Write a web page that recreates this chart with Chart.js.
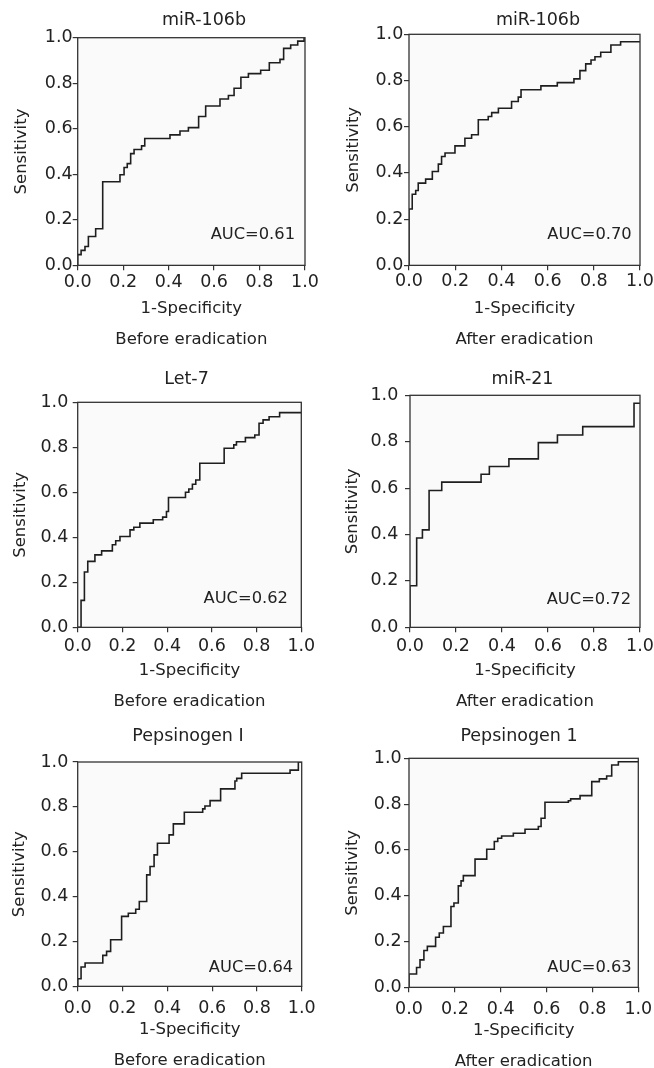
<!DOCTYPE html>
<html>
<head>
<meta charset="utf-8">
<script src="https://cdn.jsdelivr.net/npm/chart.js@4.4.1/dist/chart.umd.min.js"></script>
<style>
  html, body { margin: 0; padding: 0; background: #fff; overflow: hidden; width: 654px; height: 1068px; }
  .panel { position: absolute; }
</style>
</head>
<body>
<script>
// axis ticks, same on every panel
const tickValues = [0, 0.2, 0.4, 0.6, 0.8, 1.0];
const tickLabels = ['0.0', '0.2', '0.4', '0.6', '0.8', '1.0'];

const panelTitles = ['miR-106b', 'miR-106b', 'Let-7', 'miR-21', 'Pepsinogen I', 'Pepsinogen 1'];
const panelPeriods = ['Before eradication', 'After eradication', 'Before eradication',
                      'After eradication', 'Before eradication', 'After eradication'];
const aucLabels = ['AUC=0.61', 'AUC=0.70', 'AUC=0.62', 'AUC=0.72', 'AUC=0.64', 'AUC=0.63'];

// ROC steps: 1-specificity where each step starts, and the sensitivity it jumps to
const fprMir106bBefore = [0, 0, 0.015, 0.032, 0.047, 0.079, 0.11, 0.186, 0.204, 0.218, 0.233, 0.248, 0.281, 0.295,
  0.406, 0.45, 0.487, 0.532, 0.563, 0.626, 0.663, 0.688, 0.718, 0.751, 0.805, 0.843, 0.89, 0.906, 0.937, 0.968, 0.996, 1];
const sensMir106bBefore = [0, 0.047, 0.066, 0.083, 0.127, 0.161, 0.367, 0.398, 0.43, 0.447, 0.491, 0.509, 0.525, 0.557,
  0.573, 0.59, 0.605, 0.654, 0.7, 0.731, 0.746, 0.778, 0.826, 0.842, 0.857, 0.89, 0.905, 0.953, 0.968, 0.985, 1, 1];

const fprMir106bAfter = [0, 0, 0.014, 0.029, 0.04, 0.072, 0.101, 0.127, 0.141, 0.156, 0.199, 0.242, 0.271, 0.3,
  0.343, 0.358, 0.387, 0.444, 0.473, 0.485, 0.571, 0.642, 0.714, 0.74, 0.765, 0.788, 0.805, 0.83, 0.874, 0.916, 1];
const sensMir106bAfter = [0, 0.244, 0.308, 0.324, 0.356, 0.373, 0.406, 0.438, 0.471, 0.486, 0.517, 0.55, 0.565, 0.63,
  0.644, 0.661, 0.68, 0.709, 0.728, 0.76, 0.777, 0.791, 0.807, 0.843, 0.872, 0.889, 0.903, 0.922, 0.954, 0.968, 0.968];

const fprLet7Before = [0, 0.015, 0.03, 0.045, 0.077, 0.107, 0.155, 0.17, 0.189, 0.234, 0.251, 0.278, 0.338, 0.38,
  0.397, 0.406, 0.482, 0.497, 0.513, 0.528, 0.546, 0.655, 0.698, 0.71, 0.75, 0.792, 0.811, 0.829, 0.856, 0.903, 1];
const sensLet7Before = [0, 0.12, 0.246, 0.293, 0.322, 0.34, 0.367, 0.385, 0.404, 0.433, 0.445, 0.463, 0.478, 0.49,
  0.515, 0.577, 0.6, 0.615, 0.636, 0.655, 0.729, 0.796, 0.811, 0.825, 0.843, 0.855, 0.907, 0.922, 0.936, 0.954, 0.954];

const fprMir21After = [0, 0, 0.029, 0.054, 0.083, 0.138, 0.309, 0.345, 0.43, 0.558, 0.641, 0.751, 0.974, 1];
const sensMir21After = [0, 0.179, 0.385, 0.42, 0.59, 0.626, 0.66, 0.693, 0.726, 0.796, 0.829, 0.865, 0.966, 0.966];

const fprPepBefore = [0, 0, 0.015, 0.033, 0.112, 0.129, 0.147, 0.196, 0.226, 0.259, 0.275, 0.308, 0.323, 0.341,
  0.356, 0.408, 0.427, 0.476, 0.558, 0.568, 0.591, 0.638, 0.702, 0.71, 0.732, 0.948, 0.985, 1];
const sensPepBefore = [0, 0.034, 0.086, 0.104, 0.138, 0.156, 0.208, 0.312, 0.326, 0.344, 0.378, 0.497, 0.534, 0.586,
  0.638, 0.675, 0.724, 0.776, 0.791, 0.804, 0.828, 0.88, 0.915, 0.927, 0.95, 0.964, 1, 1];

const fprPepAfter = [0, 0, 0.033, 0.048, 0.065, 0.08, 0.116, 0.132, 0.15, 0.183, 0.196, 0.215, 0.227, 0.237,
  0.288, 0.339, 0.372, 0.387, 0.404, 0.455, 0.506, 0.564, 0.576, 0.593, 0.695, 0.705, 0.746, 0.797, 0.83, 0.862,
  0.884, 0.913, 1];
const sensPepAfter = [0, 0.058, 0.087, 0.12, 0.161, 0.179, 0.219, 0.237, 0.266, 0.353, 0.368, 0.443, 0.465, 0.488,
  0.56, 0.603, 0.637, 0.651, 0.661, 0.673, 0.69, 0.702, 0.738, 0.808, 0.815, 0.823, 0.837, 0.898, 0.91, 0.923,
  0.971, 0.985, 0.985];

const fprSeries = [fprMir106bBefore, fprMir106bAfter, fprLet7Before, fprMir21After, fprPepBefore, fprPepAfter];
const sensSeries = [sensMir106bBefore, sensMir106bAfter, sensLet7Before, sensMir21After, sensPepBefore, sensPepAfter];

// page placement of each panel (px): canvas left/top/width, plot rect l,t,r,b
const layouts = [
  { box: [0, 0, 408],     plot: [77.7, 37.7, 305, 265.7],   titleY: 20,    yTitleX: 21.3,  xPad: 1.6, yPad: 0,   auc: [0.956, 0.133] },
  { box: [330, 0, 416],   plot: [409, 34.3, 640, 265.7],    titleY: 20.8,  yTitleX: 353.3, xPad: 0.5, yPad: 0.7, auc: [0.964, 0.131] },
  { box: [0, 360, 373.4], plot: [77.7, 402.3, 301.7, 627.7], titleY: 379.5, yTitleX: 20.5, xPad: 3.5, yPad: 4.4, auc: [0.94, 0.125] },
  { box: [330, 360, 385], plot: [410, 395.3, 640, 627.7],   titleY: 379.5, yTitleX: 353,   xPad: 3.5, yPad: 6.7, auc: [0.961, 0.121] },
  { box: [0, 715, 376],   plot: [77.7, 762, 301.7, 986.7],  titleY: 736.7, yTitleX: 20,    xPad: 6.1, yPad: 4.4, auc: [0.962, 0.082] },
  { box: [330, 715, 378], plot: [409, 758.3, 638.3, 987.7], titleY: 736.3, yTitleX: 352.5, xPad: 6.8, yPad: 2.3, auc: [0.971, 0.085] }
];

const FONT = "'DejaVu Sans', sans-serif";
const INK = '#222';
Chart.defaults.font.family = FONT;
Chart.defaults.color = INK;

// light plot background + closed box round the plot
const framePlugin = {
  id: 'plotFrame',
  beforeDraw(chart) {
    const a = chart.chartArea, ctx = chart.ctx;
    ctx.save();
    ctx.fillStyle = '#fafafa';
    ctx.fillRect(a.left, a.top, a.width, a.height);
    ctx.restore();
  },
  afterDatasetsDraw(chart) {
    const a = chart.chartArea, ctx = chart.ctx;
    ctx.save();
    ctx.strokeStyle = '#333';
    ctx.lineWidth = 1.3;
    ctx.strokeRect(a.left, a.top, a.width, a.height);
    ctx.restore();
  }
};

// AUC note, anchored in data units
const aucPlugin = {
  id: 'aucText',
  afterDraw(chart, args, opts) {
    const ctx = chart.ctx, x = chart.scales.x, y = chart.scales.y;
    ctx.save();
    ctx.font = '16.3px ' + FONT;
    ctx.fillStyle = INK;
    ctx.textAlign = 'right';
    ctx.textBaseline = 'middle';
    ctx.fillText(opts.text, x.getPixelForValue(opts.at[0]), y.getPixelForValue(opts.at[1]));
    ctx.restore();
  }
};

const TITLE_LH = 17.5 * 1.2;
const XTITLE_LH = 16.5 * 1.86;
const YTITLE_LH = 16.5 * 1.2;

layouts.forEach((L, i) => {
  const [cl, ct, w] = L.box;
  const [pl, pt, pr, pb] = L.plot;
  const h = pb + 74.3 + XTITLE_LH / 2 - ct;

  const div = document.createElement('div');
  div.className = 'panel';
  div.style.left = cl + 'px';
  div.style.top = ct + 'px';
  div.style.width = w + 'px';
  div.style.height = h + 'px';
  const canvas = document.createElement('canvas');
  canvas.width = w;
  canvas.height = h;
  canvas.style.width = w + 'px';
  canvas.style.height = h + 'px';
  div.appendChild(canvas);
  document.body.appendChild(div);

  const tickOpts = {
    font: { size: 17.5 },
    color: INK,
    autoSkip: false,
    maxRotation: 0,
    callback: (v, k) => tickLabels[k]
  };
  const gridOpts = { display: true, drawOnChartArea: false, drawTicks: true, tickLength: 5, color: '#333', lineWidth: 1.2 };

  new Chart(canvas, {
    type: 'line',
    data: {
      datasets: [{
        data: fprSeries[i].map((x, k) => ({ x: x, y: sensSeries[i][k] })),
        xAxisID: 'x',
        yAxisID: 'y',
        stepped: 'before',   // run across first, then jump up
        borderColor: '#1e1e1e',
        borderWidth: 1.6,
        pointRadius: 0,
        fill: false
      }]
    },
    options: {
      responsive: false,
      animation: false,
      devicePixelRatio: 1,
      layout: { padding: 0 },
      events: [],
      plugins: {
        legend: { display: false },
        tooltip: { enabled: false },
        title: {
          display: true,
          text: panelTitles[i],
          color: INK,
          font: { size: 17.5, weight: 'normal', lineHeight: 1.2 },
          padding: { top: L.titleY - ct - TITLE_LH / 2, bottom: pt - L.titleY - TITLE_LH / 2 }
        },
        aucText: { text: aucLabels[i], at: L.auc }
      },
      scales: {
        x: {
          type: 'linear', position: 'bottom', min: 0, max: 1,
          afterBuildTicks: s => { s.ticks = tickValues.map(v => ({ value: v })); },
          ticks: Object.assign({ padding: L.xPad }, tickOpts),
          grid: gridOpts,
          border: { display: false },
          title: {
            display: true,
            text: ['1-Specificity', panelPeriods[i]],
            color: INK,
            font: { size: 16.5, lineHeight: 1.86 },
            padding: { top: 0, bottom: 0 }
          },
          afterFit: s => { s.height = ct + h - pb; s.paddingLeft = 0; s.paddingRight = 0; }
        },
        y: {
          type: 'linear', position: 'left', min: 0, max: 1,
          afterBuildTicks: s => { s.ticks = tickValues.map(v => ({ value: v })); },
          ticks: Object.assign({ padding: L.yPad }, tickOpts),
          grid: gridOpts,
          border: { display: false },
          title: {
            display: true,
            text: 'Sensitivity',
            color: INK,
            font: { size: 16.5, lineHeight: 1.2 },
            padding: { top: L.yTitleX - cl - YTITLE_LH / 2, bottom: 0 }
          },
          afterFit: s => { s.width = pl - cl; s.paddingTop = 0; s.paddingBottom = 0; }
        },
        // empty strip right of the plot so the panel title centres where the original has it
        yR: {
          type: 'linear', position: 'right', display: true,
          ticks: { display: false },
          grid: { display: false },
          border: { display: false },
          afterFit: s => { s.width = cl + w - pr; s.paddingTop = 0; s.paddingBottom = 0; }
        }
      }
    },
    plugins: [framePlugin, aucPlugin]
  });
});
</script>
</body>
</html>
